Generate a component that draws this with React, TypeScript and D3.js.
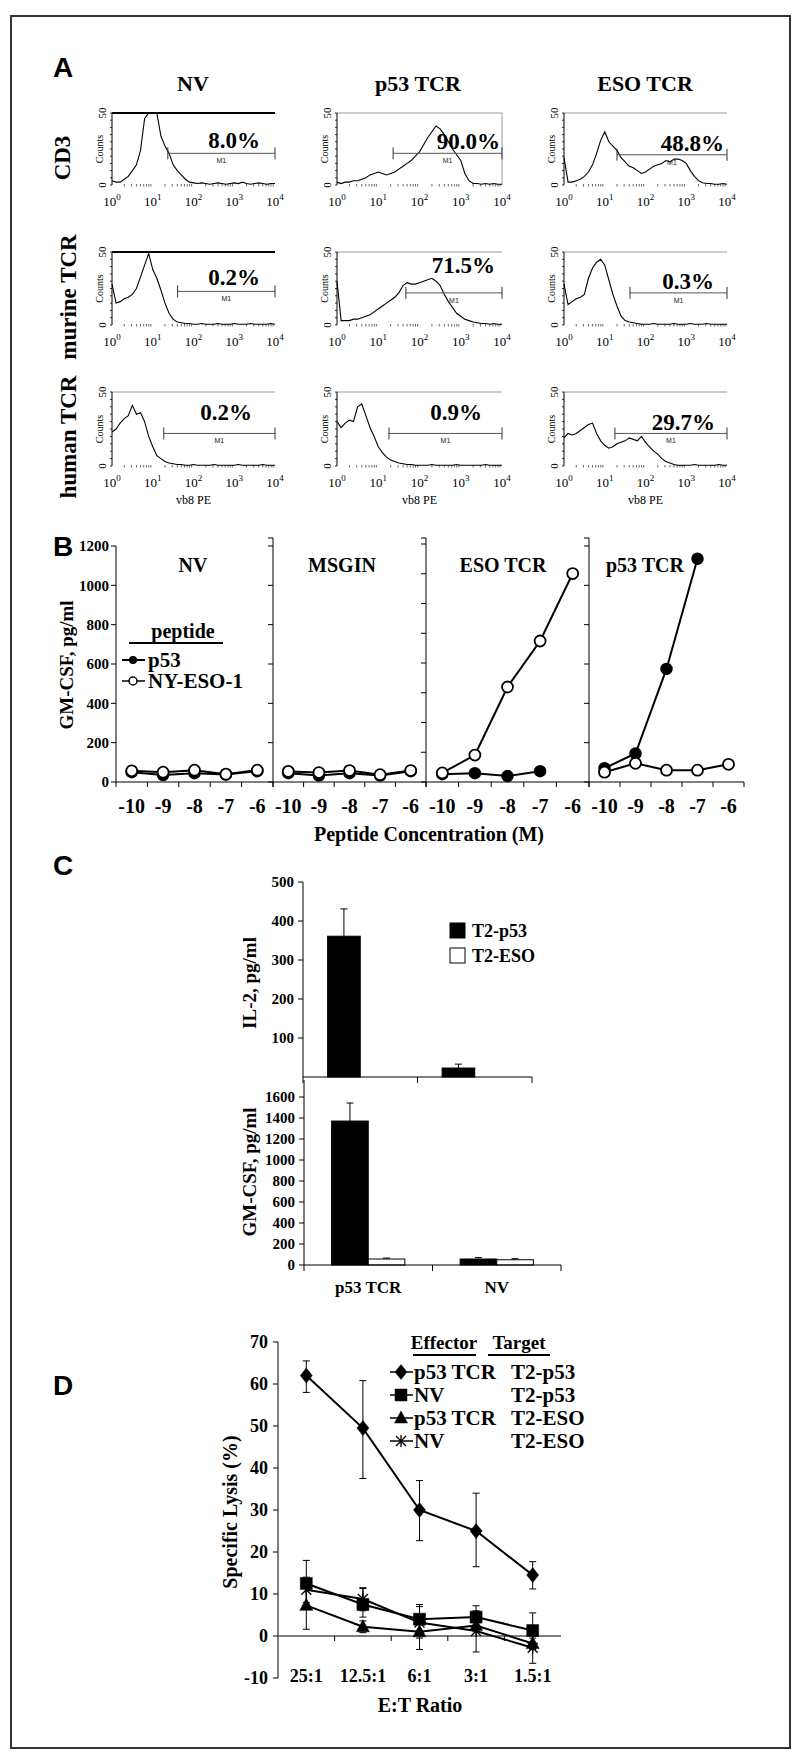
import React from 'react';
import * as d3 from 'd3';

const SERIF = '"Liberation Serif", "Times New Roman", serif';
const SANS = '"Liberation Sans", Arial, sans-serif';

// ---------------- Panel A data ----------------
const flowColumns = ['NV', 'p53 TCR', 'ESO TCR'];
const flowRows = ['CD3', 'murine TCR', 'human TCR'];
const flowDecades = [0, 1, 2, 3, 4];
const flowBins = [0, 0.1, 0.2, 0.3, 0.4, 0.5, 0.6, 0.7, 0.8, 0.9, 1.0, 1.1, 1.2, 1.3, 1.4, 1.5, 1.6, 1.7, 1.8, 1.9, 2.0,
  2.1, 2.2, 2.3, 2.4, 2.5, 2.6, 2.7, 2.8, 2.9, 3.0, 3.1, 3.2, 3.3, 3.4, 3.5, 3.6, 3.7, 3.8, 3.9, 4.0];
const histCD3NV = [3, 2, 2, 4, 6, 10, 14, 24, 46, 50, 50, 50, 34, 27, 22, 14, 10, 7, 4, 2, 1.5, 1, 1.5, 1, 0.5, 1, 1.5, 1, 0.5, 1, 1.5, 1, 2, 1, 0.5, 1, 1.5, 1, 0.5, 1, 1];
const histCD3P53 = [2, 1, 2, 2, 3, 3, 4, 5, 7, 8, 9, 8, 7, 8, 9, 11, 13, 15, 17, 20, 23, 28, 33, 37, 41, 39, 35, 30, 25, 21, 17, 8, 3, 1, 1, 0.5, 1, 0.5, 1, 0.5, 0.5];
const histCD3ESO = [19, 2, 2, 3, 4, 6, 9, 14, 22, 31, 37, 30, 27, 24, 19, 16, 13, 12, 10, 8, 9, 11, 13, 14, 15, 17, 16, 18, 18, 17, 15, 10, 6, 3, 1.5, 1, 1, 0.5, 0.5, 1, 0.5];
const histMurNV = [28, 15, 16, 18, 19, 21, 25, 33, 41, 49, 38, 32, 24, 15, 8, 4, 2, 1.5, 1, 1, 0.5, 0.5, 1, 0.5, 0.5, 0.5, 1, 0.5, 0.5, 0.5, 1, 0.5, 0.5, 0.5, 1, 0.5, 0.5, 0.5, 0.5, 1, 0.5];
const histMurP53 = [30, 3, 3, 3, 4, 4, 5, 6, 7, 9, 11, 13, 15, 17, 19, 22, 27, 29, 28, 28, 29, 30, 31, 32, 30, 27, 21, 16, 12, 8, 6, 4, 3, 2, 1.5, 1, 1, 0.5, 1, 0.5, 0.5];
const histMurESO = [28, 14, 16, 18, 19, 21, 32, 39, 43, 45, 41, 31, 21, 13, 6, 3, 2, 1.5, 1, 0.5, 0.5, 0.5, 1, 0.5, 0.5, 0.5, 0.5, 1, 0.5, 0.5, 0.5, 1, 0.5, 0.5, 0.5, 1, 0.5, 0.5, 0.5, 0.5, 0.5];
const histHumNV = [23, 25, 29, 32, 34, 41, 35, 36, 30, 20, 13, 7, 5, 3, 2, 1.5, 1, 1, 0.5, 0.5, 1, 0.5, 0.5, 0.5, 0.5, 1, 0.5, 0.5, 0.5, 0.5, 0.5, 1, 0.5, 0.5, 0.5, 0.5, 0.5, 1, 0.5, 0.5, 0.5];
const histHumP53 = [30, 26, 29, 31, 30, 40, 42, 34, 26, 20, 13, 9, 6, 4, 3, 2, 1.5, 1, 1, 0.5, 0.5, 0.5, 0.5, 1, 0.5, 0.5, 0.5, 0.5, 0.5, 1, 0.5, 0.5, 0.5, 0.5, 0.5, 0.5, 1, 0.5, 0.5, 0.5, 0.5];
const histHumESO = [19, 22, 21, 22, 24, 26, 28, 29, 22, 17, 14, 12, 13, 15, 16, 17, 19, 18, 17, 20, 16, 13, 10, 8, 5, 3, 2, 1, 0.5, 0.5, 0.5, 0.5, 1, 0.5, 0.5, 0.5, 0.5, 0.5, 1, 0.5, 0.5];
const flowPercents = [['8.0%', '90.0%', '48.8%'], ['0.2%', '71.5%', '0.3%'], ['0.2%', '0.9%', '29.7%']];
const flowGateStart = [[1.37, 1.36, 1.30], [1.61, 1.67, 1.62], [1.27, 1.26, 1.25]];
const flowGateLevel = [[22, 22, 21], [23, 22, 22], [22, 22, 22]];

// ---------------- Panel B data ----------------
const bPanels = ['NV', 'MSGIN', 'ESO TCR', 'p53 TCR'];
const concLabels = ['-10', '-9', '-8', '-7', '-6'];
const bTicks = [0, 200, 400, 600, 800, 1000, 1200];
const bTicksAlt = [0, 200, 400, 600, 800, 1000, 1200, 1400, 1600];
const bP53 = [
  [50, 35, 45, 38, 55],
  [45, 33, 45, 33, 55],
  [40, 45, 30, 55, null],
  [70, 145, 575, 1135, null],
];
const bNYESO = [
  [57, 50, 60, 40, 60],
  [54, 48, 58, 37, 58],
  [46, 137, 483, 717, 1060],
  [50, 95, 60, 60, 90],
];

// ---------------- Panel C data ----------------
const cGroups = ['p53 TCR', 'NV'];
const cSeries = ['T2-p53', 'T2-ESO'];
const il2Values = [[361, 0], [23, 0]];
const il2ErrTop = [[431, 0], [33, 0]];
const gmValues = [[1371, 57], [57, 50]];
const gmErrTop = [[1543, 66], [70, 60]];
const il2Ticks = [100, 200, 300, 400, 500];
const gmTicks = [0, 200, 400, 600, 800, 1000, 1200, 1400, 1600];

// ---------------- Panel D data ----------------
const etRatios = ['25:1', '12.5:1', '6:1', '3:1', '1.5:1'];
const dTicks = [-10, 0, 10, 20, 30, 40, 50, 60, 70];
const dEffectors = ['p53 TCR', 'NV', 'p53 TCR', 'NV'];
const dTargets = ['T2-p53', 'T2-p53', 'T2-ESO', 'T2-ESO'];
const lysisMean = [
  [62, 49.5, 30, 25, 14.5],
  [12.5, 7.5, 4, 4.5, 1.3],
  [7.3, 2.2, 1, 2.5, -1.8],
  [11, 8.8, 3.2, 1.2, -2.8],
];
const lysisHigh = [
  [65.5, 60.8, 37, 34, 17.7],
  [18, 11.5, 7.5, 7.2, 5.5],
  [12, 3.6, 5, 4, -0.5],
  [14, 11.3, 7, 6, 0.8],
];
const lysisLow = [
  [58, 37.5, 22.7, 16.5, 11.2],
  [7, 4.5, 0.5, 1.8, -3],
  [1.6, 0.8, -3.2, 1, -3.2],
  [8, 6, -0.5, -3.8, -6.5],
];
const dMarkers = ['diamond', 'square', 'triangle', 'x'];

// ---------------- helpers ----------------
function markerPath(type: string, cx: number, cy: number): string {
  if (type === 'diamond') return `M${cx},${cy - 7.5}L${cx + 6},${cy}L${cx},${cy + 7.5}L${cx - 6},${cy}Z`;
  if (type === 'square') return `M${cx - 6},${cy - 6}h12v12h-12Z`;
  if (type === 'triangle') return `M${cx},${cy - 7}L${cx + 6.5},${cy + 5}L${cx - 6.5},${cy + 5}Z`;
  return `M${cx - 5},${cy - 5}L${cx + 5},${cy + 5}M${cx - 5},${cy + 5}L${cx + 5},${cy - 5}M${cx},${cy - 6}V${cy + 6}`;
}

function Marker({ type, x, y }: { type: string; x: number; y: number }) {
  if (type === 'x') return <path d={markerPath(type, x, y)} fill="none" stroke="#000" strokeWidth={1.3} />;
  return <path d={markerPath(type, x, y)} fill="#000" stroke="#000" strokeWidth={0.5} />;
}

// ---------------- Panel A ----------------
const colX = [[112, 275], [337, 502], [564, 727]];
const rowY = [[113, 185], [252, 325], [392, 466]];
const colTitleX = [193, 418, 645];
const pctDx = [[-15, -2, -3], [-15, -7, -13], [-23, -20, -12]];
const pctDy = [[-5, -4, -4], [-6, -20, -4], [-13, -13, -3]];
const rowLabelX = [70, 76, 76];
const rowLabelY = [158, 297, 437];

function PanelA() {
  const hists = [[histCD3NV, histCD3P53, histCD3ESO], [histMurNV, histMurP53, histMurESO], [histHumNV, histHumP53, histHumESO]];
  const minor: number[] = [];
  for (let d = 0; d < 4; d++) for (let k = 2; k < 10; k++) minor.push(d + Math.log10(k));
  const yTicks = [0, 5, 10, 15, 20, 25, 30, 35, 40, 45, 50];
  return (
    <g>
      <text x={53} y={77} fontFamily={SANS} fontWeight="bold" fontSize={28}>A</text>
      {flowColumns.map((t, c) => (
        <text key={t} x={colTitleX[c]} y={91} textAnchor="middle" fontFamily={SERIF} fontWeight="bold" fontSize={22}>{t}</text>
      ))}
      {flowRows.map((lab, r) => (
        <text key={lab} transform={`translate(${rowLabelX[r]},${rowLabelY[r]}) rotate(-90)`} textAnchor="middle"
          fontFamily={SERIF} fontWeight="bold" fontSize={23}>{lab}</text>
      ))}
      {hists.map((row, r) => row.map((vals, c) => {
        const [x0, x1] = colX[c];
        const [yt, yb] = rowY[r];
        const xs = d3.scaleLinear().domain([0, 4]).range([x0, x1]);
        const ys = d3.scaleLinear().domain([0, 50]).range([yb, yt]);
        const line = d3.line<number>().x((_, i) => xs(flowBins[i])).y(d => ys(Math.min(d, 50)));
        const gx = xs(flowGateStart[r][c]);
        const gy = ys(flowGateLevel[r][c]);
        const heavy = c === 0 && r < 2;
        const midY = (yt + yb) / 2;
        return (
          <g key={`${r}-${c}`}>
            <line x1={x0} x2={x1} y1={yt} y2={yt} stroke={heavy ? '#000' : '#999'} strokeWidth={heavy ? 2 : 1} />
            {r === 0 && c === 1 && <line x1={x1} x2={x1} y1={yt} y2={yb} stroke="#999" strokeWidth={1} />}
            <line x1={x0} x2={x0} y1={yt} y2={yb} stroke="#000" strokeWidth={1} />
            {yTicks.map(t => (
              <line key={t} x1={x0 - 2} x2={x0} y1={ys(t)} y2={ys(t)} stroke="#000" strokeWidth={0.8} />
            ))}
            {minor.map((m, i) => (
              <line key={i} x1={xs(m)} x2={xs(m)} y1={yb - 1} y2={yb + 1.5} stroke="#444" strokeWidth={0.8} />
            ))}
            <path d={line(vals) || ''} fill="none" stroke="#000" strokeWidth={1.1} />
            <line x1={gx} x2={x1} y1={gy} y2={gy} stroke="#555" strokeWidth={1} />
            <line x1={gx} x2={gx} y1={gy - 6} y2={gy + 6} stroke="#333" strokeWidth={1} />
            <line x1={x1} x2={x1} y1={gy - 6} y2={gy + 6} stroke="#333" strokeWidth={1} />
            <text x={(gx + x1) / 2} y={gy + 10} textAnchor="middle" fontFamily={SANS} fontSize={7} fill="#222">M1</text>
            <text x={x1 + pctDx[r][c]} y={gy + pctDy[r][c]} textAnchor="end" fontFamily={SERIF} fontWeight="bold"
              fontSize={23}>{flowPercents[r][c]}</text>
            {flowDecades.map(d => (
              <text key={d} x={xs(d)} y={yb + 21} textAnchor="middle" fontFamily={SERIF} fontSize={13}>
                10<tspan fontSize={9} dy={-6}>{d}</tspan>
              </text>
            ))}
            <text transform={`translate(${x0 - 9},${midY}) rotate(-90)`} textAnchor="middle" fontFamily={SERIF} fontSize={10}>Counts</text>
            <text transform={`translate(${x0 - 6},${yt}) rotate(-90)`} textAnchor="middle" fontFamily={SERIF} fontSize={11}>50</text>
            <text transform={`translate(${x0 - 6},${yb}) rotate(-90)`} textAnchor="middle" fontFamily={SERIF} fontSize={11}>0</text>
            {r === 2 && (
              <text x={(x0 + x1) / 2} y={yb + 38} textAnchor="middle" fontFamily={SERIF} fontSize={12}>vb8 PE</text>
            )}
          </g>
        );
      }))}
    </g>
  );
}

// ---------------- Panel B ----------------
const bPanelX = [[116, 273], [273, 426], [426, 589], [589, 744]];
const bTitleX = [193, 342, 503, 645];

function PanelB() {
  const y = d3.scaleLinear().domain([0, 1200]).range([782, 546]);
  const yAlt = d3.scaleLinear().domain([0, 1600]).range([782, 544]);
  return (
    <g>
      <text x={53} y={556} fontFamily={SANS} fontWeight="bold" fontSize={28}>B</text>
      <line x1={116} x2={116} y1={546} y2={782} stroke="#000" strokeWidth={1} />
      {bTicks.map(t => (
        <g key={t}>
          <line x1={111} x2={116} y1={y(t)} y2={y(t)} stroke="#000" />
          <text x={109} y={y(t)} dy="0.35em" textAnchor="end" fontFamily={SERIF} fontWeight="bold" fontSize={15}>{t}</text>
        </g>
      ))}
      {bPanelX.slice(1).map(([px], i) => {
        const sc = i === 1 ? yAlt : y;
        const ticks = i === 1 ? bTicksAlt : bTicks;
        return (
          <g key={px}>
            <line x1={px} x2={px} y1={538} y2={782} stroke="#000" strokeWidth={1} />
            <line x1={px - 5} x2={px} y1={538} y2={538} stroke="#000" />
            {ticks.map(t => (
              <line key={t} x1={px - 5} x2={px} y1={sc(t)} y2={sc(t)} stroke="#000" />
            ))}
          </g>
        );
      })}
      <line x1={116} x2={744} y1={782} y2={782} stroke="#000" strokeWidth={1} />
      {bPanels.map((name, p) => {
        const xb = d3.scaleBand<string>().domain(concLabels).range(bPanelX[p]);
        const cx = (lab: string) => (xb(lab) || 0) + xb.bandwidth() / 2;
        const line = d3.line<number | null>()
          .defined(d => d != null)
          .x((_, i) => cx(concLabels[i]))
          .y(d => y(d as number));
        return (
          <g key={name}>
            <text x={bTitleX[p]} y={572} textAnchor="middle" fontFamily={SERIF} fontWeight="bold" fontSize={20}>{name}</text>
            {concLabels.map(l => (
              <line key={l} x1={xb(l)} x2={xb(l)} y1={782} y2={787} stroke="#000" />
            ))}
            <line x1={bPanelX[p][1]} x2={bPanelX[p][1]} y1={782} y2={787} stroke="#000" />
            {concLabels.map(l => (
              <text key={l} x={cx(l)} y={813} textAnchor="middle" fontFamily={SERIF} fontWeight="bold" fontSize={20}>{l}</text>
            ))}
            <path d={line(bP53[p]) || ''} fill="none" stroke="#000" strokeWidth={2} />
            <path d={line(bNYESO[p]) || ''} fill="none" stroke="#000" strokeWidth={2} />
            {bP53[p].map((v, i) => v == null ? null : (
              <circle key={`f${i}`} cx={cx(concLabels[i])} cy={y(v)} r={5.5} fill="#000" stroke="#000" strokeWidth={1.5} />
            ))}
            {bNYESO[p].map((v, i) => v == null ? null : (
              <circle key={`o${i}`} cx={cx(concLabels[i])} cy={y(v)} r={5.5} fill="#fff" stroke="#000" strokeWidth={1.8} />
            ))}
          </g>
        );
      })}
      <text x={183} y={638} textAnchor="middle" fontFamily={SERIF} fontWeight="bold" fontSize={20}>peptide</text>
      <line x1={129} x2={223} y1={643} y2={643} stroke="#000" strokeWidth={2} />
      <line x1={122} x2={145} y1={660} y2={660} stroke="#000" strokeWidth={2} />
      <circle cx={133} cy={660} r={4} fill="#000" />
      <text x={148} y={667} fontFamily={SERIF} fontWeight="bold" fontSize={21}>p53</text>
      <line x1={122} x2={145} y1={681} y2={681} stroke="#000" strokeWidth={1.5} />
      <circle cx={133} cy={681} r={4} fill="#fff" stroke="#000" strokeWidth={1.5} />
      <text x={148} y={688} fontFamily={SERIF} fontWeight="bold" fontSize={21}>NY-ESO-1</text>
      <text transform="translate(73,665) rotate(-90)" textAnchor="middle" fontFamily={SERIF} fontWeight="bold" fontSize={19}>GM-CSF, pg/ml</text>
      <text x={429} y={841} textAnchor="middle" fontFamily={SERIF} fontWeight="bold" fontSize={20}>Peptide Concentration (M)</text>
    </g>
  );
}

// ---------------- Panel C ----------------
function BarChart({ values, errs, y, x0, x1, yTop, ticks }: {
  values: number[][]; errs: number[][]; y: d3.ScaleLinear<number, number>; x0: number; x1: number; yTop: number; ticks: number[];
}) {
  const xb = d3.scaleBand<string>().domain(cGroups).range([x0, x1]).paddingInner(0.43).paddingOuter(0.215);
  const inner = d3.scaleBand<string>().domain(cSeries).range([0, xb.bandwidth()]);
  const base = y(0);
  return (
    <g>
      <line x1={x0} x2={x0} y1={yTop} y2={base} stroke="#000" />
      {ticks.map(t => (
        <g key={t}>
          <line x1={x0 - 5} x2={x0} y1={y(t)} y2={y(t)} stroke="#000" />
          <text x={x0 - 9} y={y(t)} dy="0.35em" textAnchor="end" fontFamily={SERIF} fontWeight="bold" fontSize={15}>{t}</text>
        </g>
      ))}
      {cGroups.map((g, gi) => cSeries.map((s, si) => {
        const v = values[gi][si];
        const e = errs[gi][si];
        const bx = (xb(g) || 0) + (inner(s) || 0);
        const bw = inner.bandwidth();
        const cx = bx + bw / 2;
        return (
          <g key={`${g}-${s}`}>
            {v > 0 && <rect x={bx} y={y(v)} width={bw} height={base - y(v)} fill={si === 0 ? '#000' : '#fff'} stroke="#000" strokeWidth={1} />}
            {e > v && (
              <g>
                <line x1={cx} x2={cx} y1={y(v)} y2={y(e)} stroke="#000" strokeWidth={1} />
                <line x1={cx - 3.5} x2={cx + 3.5} y1={y(e)} y2={y(e)} stroke="#000" strokeWidth={1} />
              </g>
            )}
          </g>
        );
      }))}
      <line x1={x0} x2={x1} y1={base} y2={base} stroke="#000" />
      {[x0, (xb(cGroups[1]) || 0) - xb.step() * 0.215, x1].map((tx, i) => (
        <line key={i} x1={tx} x2={tx} y1={base} y2={base + 6} stroke="#000" />
      ))}
    </g>
  );
}

function PanelC() {
  const il2Y = d3.scaleLinear().domain([0, 500]).range([1077, 882]);
  const gmY = d3.scaleLinear().domain([0, 1600]).range([1265, 1097]);
  const gmX = d3.scaleBand<string>().domain(cGroups).range([304, 561]).paddingInner(0.43).paddingOuter(0.215);
  return (
    <g>
      <text x={53} y={875} fontFamily={SANS} fontWeight="bold" fontSize={28}>C</text>
      <BarChart values={il2Values} errs={il2ErrTop} y={il2Y} x0={303} x1={532} yTop={882} ticks={il2Ticks} />
      <BarChart values={gmValues} errs={gmErrTop} y={gmY} x0={304} x1={561} yTop={1080} ticks={gmTicks} />
      <text transform="translate(256,983) rotate(-90)" textAnchor="middle" fontFamily={SERIF} fontWeight="bold" fontSize={19}>IL-2, pg/ml</text>
      <text transform="translate(256,1172) rotate(-90)" textAnchor="middle" fontFamily={SERIF} fontWeight="bold" fontSize={19}>GM-CSF, pg/ml</text>
      {cGroups.map(g => (
        <text key={g} x={(gmX(g) || 0) + gmX.bandwidth() / 2} y={1293} textAnchor="middle" fontFamily={SERIF} fontWeight="bold" fontSize={17}>{g}</text>
      ))}
      {cSeries.map((s, i) => (
        <g key={s}>
          <rect x={450} y={923 + i * 25} width={15} height={15} fill={i === 0 ? '#000' : '#fff'} stroke="#000" />
          <text x={472} y={937 + i * 25} fontFamily={SERIF} fontWeight="bold" fontSize={18}>{s}</text>
        </g>
      ))}
    </g>
  );
}

// ---------------- Panel D ----------------
function PanelD() {
  const y = d3.scaleLinear().domain([-10, 70]).range([1678, 1342]);
  const x = d3.scaleBand<string>().domain(etRatios).range([278, 561]);
  const cx = (l: string) => (x(l) || 0) + x.bandwidth() / 2;
  const line = d3.line<number>().x((_, i) => cx(etRatios[i])).y(d => y(d));
  const legY = [1372, 1395, 1418, 1441];
  return (
    <g>
      <text x={53} y={1395} fontFamily={SANS} fontWeight="bold" fontSize={28}>D</text>
      <line x1={278} x2={278} y1={1342} y2={1678} stroke="#000" />
      {dTicks.map(t => (
        <g key={t}>
          <line x1={273} x2={278} y1={y(t)} y2={y(t)} stroke="#000" />
          <text x={268} y={y(t)} dy="0.35em" textAnchor="end" fontFamily={SERIF} fontWeight="bold" fontSize={18}>{t}</text>
        </g>
      ))}
      <line x1={278} x2={561} y1={y(0)} y2={y(0)} stroke="#555" strokeWidth={1.5} />
      {etRatios.slice(1).map(l => (
        <line key={l} x1={x(l)} x2={x(l)} y1={y(0)} y2={y(0) + 5} stroke="#000" />
      ))}
      {etRatios.map(l => (
        <text key={l} x={cx(l)} y={1682} textAnchor="middle" fontFamily={SERIF} fontWeight="bold" fontSize={18}>{l}</text>
      ))}
      {lysisMean.map((s, si) => (
        <g key={si}>
          {s.map((v, i) => {
            const px = cx(etRatios[i]);
            return (
              <g key={i}>
                <line x1={px} x2={px} y1={y(lysisLow[si][i])} y2={y(lysisHigh[si][i])} stroke="#000" strokeWidth={1} />
                <line x1={px - 3.5} x2={px + 3.5} y1={y(lysisLow[si][i])} y2={y(lysisLow[si][i])} stroke="#000" strokeWidth={1} />
                <line x1={px - 3.5} x2={px + 3.5} y1={y(lysisHigh[si][i])} y2={y(lysisHigh[si][i])} stroke="#000" strokeWidth={1} />
              </g>
            );
          })}
          <path d={line(s) || ''} fill="none" stroke="#000" strokeWidth={2} />
          {s.map((v, i) => <Marker key={i} type={dMarkers[si]} x={cx(etRatios[i])} y={y(v)} />)}
        </g>
      ))}
      <text x={444} y={1349} textAnchor="middle" fontFamily={SERIF} fontWeight="bold" fontSize={19}>Effector</text>
      <text x={519} y={1349} textAnchor="middle" fontFamily={SERIF} fontWeight="bold" fontSize={19}>Target</text>
      <line x1={413} x2={476} y1={1355} y2={1355} stroke="#000" strokeWidth={2} />
      <line x1={488} x2={550} y1={1355} y2={1355} stroke="#000" strokeWidth={2} />
      {dEffectors.map((e, i) => (
        <g key={i}>
          <line x1={390} x2={413} y1={legY[i]} y2={legY[i]} stroke="#000" strokeWidth={1.5} />
          <Marker type={dMarkers[i]} x={401} y={legY[i]} />
          <text x={414} y={legY[i] + 7} fontFamily={SERIF} fontWeight="bold" fontSize={21}>{e}</text>
          <text x={511} y={legY[i] + 7} fontFamily={SERIF} fontWeight="bold" fontSize={21}>{dTargets[i]}</text>
        </g>
      ))}
      <text transform="translate(237,1512) rotate(-90)" textAnchor="middle" fontFamily={SERIF} fontWeight="bold" fontSize={20}>Specific Lysis (%)</text>
      <text x={420} y={1712} textAnchor="middle" fontFamily={SERIF} fontWeight="bold" fontSize={20}>E:T Ratio</text>
    </g>
  );
}

export default function App() {
  return (
    <svg width={800} height={1762} style={{ position: 'absolute', left: 0, top: 0, background: '#fff' }}>
      <rect x={0} y={0} width={800} height={1762} fill="#fff" />
      <rect x={11} y={16} width={779} height={1732} fill="none" stroke="#333" strokeWidth={2} />
      <PanelA />
      <PanelB />
      <PanelC />
      <PanelD />
    </svg>
  );
}
